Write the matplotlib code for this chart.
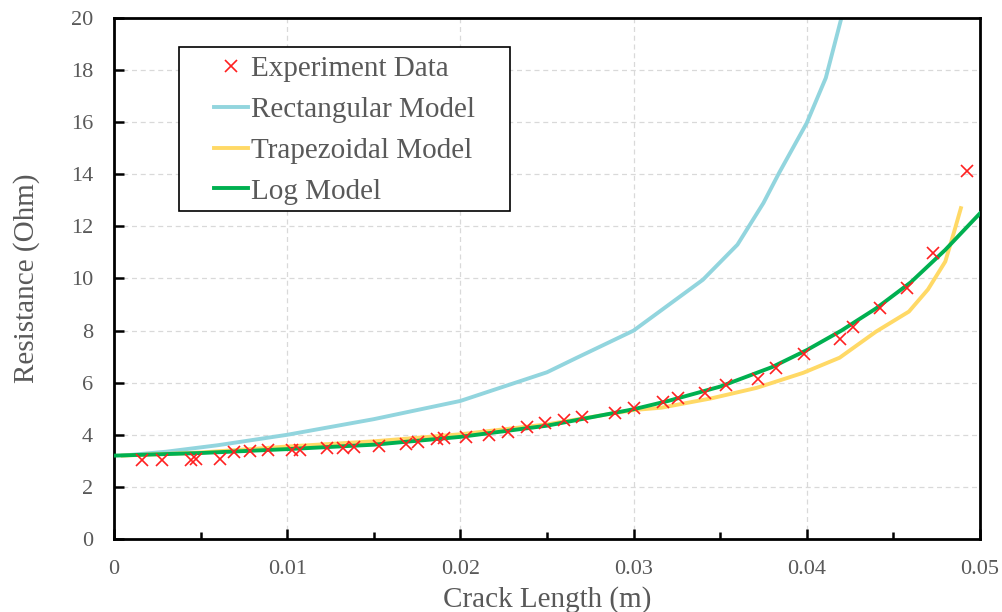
import matplotlib.pyplot as plt
from matplotlib.ticker import MultipleLocator, FuncFormatter
from matplotlib.patches import Rectangle, Shadow

# experiment data
exp_x = [0.00162, 0.00277, 0.00445, 0.00474, 0.00613, 0.00694, 0.00786, 0.0089, 0.0103, 0.01075,
         0.0123, 0.01324, 0.01387, 0.01532, 0.01688, 0.01757, 0.01867, 0.01908, 0.02035, 0.02168,
         0.02272, 0.02382, 0.02486, 0.02601, 0.02705, 0.0289, 0.0300, 0.03168, 0.03254, 0.0341,
         0.03532, 0.03717, 0.03821, 0.03983, 0.04191, 0.04266, 0.04422, 0.04578, 0.04728, 0.04925]
exp_y = [3.02, 3.02, 3.02, 3.06, 3.08, 3.35, 3.38, 3.42, 3.42, 3.42,
         3.48, 3.48, 3.54, 3.58, 3.65, 3.73, 3.85, 3.88, 3.92, 4.0,
         4.12, 4.31, 4.46, 4.58, 4.69, 4.85, 5.04, 5.27, 5.42, 5.62,
         5.92, 6.15, 6.58, 7.12, 7.69, 8.15, 8.88, 9.65, 10.96, 14.12]

rect_x = [0.0005, 0.003, 0.006, 0.01, 0.015, 0.02, 0.025, 0.0267, 0.03, 0.034,
          0.036, 0.0375, 0.0384, 0.04, 0.0411, 0.042, 0.0424]
rect_y = [3.2, 3.35, 3.6, 4.0, 4.6, 5.3, 6.4, 6.95, 8.0, 9.95,
          11.3, 12.9, 14.05, 15.97, 17.7, 20.0, 21.2]

trap_x = [0.0005, 0.005, 0.01, 0.015, 0.02, 0.025, 0.03, 0.0316, 0.0345, 0.0371,
          0.0398, 0.0419, 0.044, 0.0459, 0.047, 0.048, 0.0485, 0.0489]
trap_y = [3.2, 3.32, 3.55, 3.75, 4.02, 4.4, 4.95, 5.04, 5.4, 5.8,
          6.38, 6.96, 7.96, 8.73, 9.58, 10.65, 11.77, 12.7]

log_x = [0.0, 0.005, 0.01, 0.015, 0.02, 0.025, 0.03, 0.032, 0.035, 0.038,
         0.04, 0.042, 0.044, 0.046, 0.048, 0.05]
log_y = [3.2, 3.3, 3.45, 3.62, 3.92, 4.35, 4.98, 5.3, 5.85, 6.6,
         7.25, 8.0, 8.85, 9.85, 11.1, 12.5]

gray = '#595959'
plt.rcParams['font.family'] = ['Liberation Serif', 'DejaVu Serif']

fig = plt.figure(figsize=(10.03, 6.12), dpi=100)
ax = fig.add_axes([0.1137, 0.1193, 0.8633, 0.8513])

ax.plot(rect_x, rect_y, color='#92D5DE', lw=2.8, label='Rectangular Model', zorder=2)
ax.plot(trap_x, trap_y, color='#FFD966', lw=2.8, label='Trapezoidal Model', zorder=2)
ax.plot(log_x, log_y, color='#00B050', lw=2.8, label='Log Model', zorder=3)
ax.plot(exp_x, exp_y, ls='none', marker='x', color='#FF2020', ms=8, mew=1.2,
        label='Experiment Data', zorder=4)

ax.set_xlim(0, 0.05)
ax.set_ylim(0, 20)
ax.xaxis.set_major_locator(MultipleLocator(0.01))
ax.xaxis.set_minor_locator(MultipleLocator(0.005))
ax.yaxis.set_major_locator(MultipleLocator(2))
ax.xaxis.set_major_formatter(FuncFormatter(lambda v, p: '0' if v == 0 else f'{v:g}'))
ax.grid(True, which='major', color='#D9D9D9', ls=(0, (4, 3)), lw=0.9)
ax.set_axisbelow(True)

ax.tick_params(which='both', direction='in', colors='black', labelcolor=gray,
               labelsize=16, width=1.8)
ax.tick_params(which='major', length=7)
ax.tick_params(which='minor', length=5)
ax.tick_params(axis='x', pad=15)
ax.tick_params(axis='y', pad=15)
for s in ax.spines.values():
    s.set_linewidth(2)
    s.set_color('black')

ax.set_xlabel('Crack Length (m)', fontsize=21, color=gray, labelpad=5)
ax.set_ylabel('Resistance (Ohm)', fontsize=21, color=gray, labelpad=22)

# legend frame drawn as a separate box with a soft shadow
box = Rectangle((0.075, 0.630), 0.382, 0.314, transform=ax.transAxes,
                facecolor='white', edgecolor='black', lw=1.2, zorder=5)
shadow = Shadow(box, 2.5, -2.5, facecolor='#A6A6A6', edgecolor='none', alpha=0.6)
shadow.set_zorder(4.9)
ax.add_patch(shadow)
ax.add_patch(box)

handles, labels = ax.get_legend_handles_labels()
order = [3, 0, 1, 2]
leg = ax.legend([handles[i] for i in order], [labels[i] for i in order],
                loc='upper left', bbox_to_anchor=(0.116, 0.927), fontsize=21,
                frameon=False, handlelength=1.15, handletextpad=0.1, borderpad=0,
                labelspacing=0.49, borderaxespad=0)
leg.set_zorder(6)
for t in leg.get_texts():
    t.set_color(gray)

fig.savefig('out.png', dpi=100)
